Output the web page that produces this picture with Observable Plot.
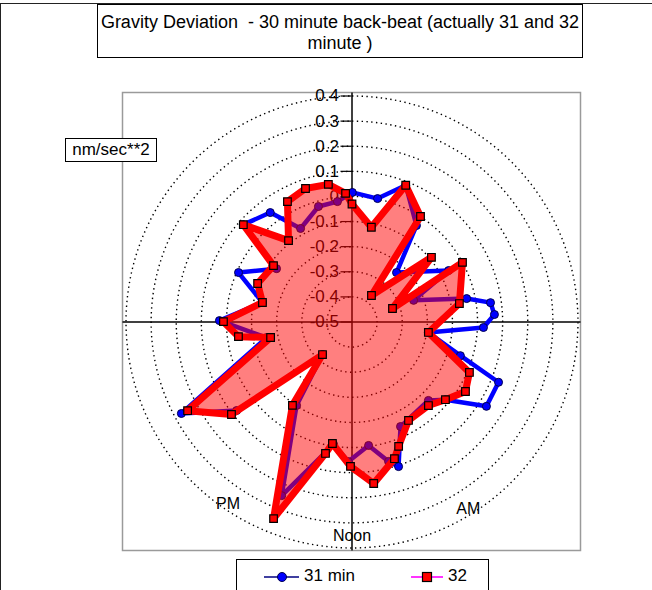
<!DOCTYPE html>
<html>
<head>
<meta charset="utf-8">
<script src="https://cdn.jsdelivr.net/npm/d3@7"></script>
<script src="https://cdn.jsdelivr.net/npm/@observablehq/plot@0.6"></script>
<style>
  html, body { margin: 0; padding: 0; background: #fff; }
  body { font-family: "Liberation Sans", Arial, sans-serif; }
  #wrap { position: relative; width: 652px; height: 590px; overflow: hidden; background: #fff; }
  #chart { position: absolute; left: 0; top: 0; }
  .frameTop { position: absolute; left: 0; top: 3px; width: 652px; height: 0; border-top: 1.5px solid #222; }
  .frameLeft { position: absolute; left: 0; top: 3px; width: 0; height: 600px; border-left: 1.5px solid #222; }
  #title { position: absolute; left: 97px; top: 4px; width: 484px; height: 52px; border: 1.5px solid #000; background: #fff;
           text-align: center; font-size: 18px; line-height: 21px; padding-top: 0; color: #000; white-space: pre; }
  #title div:first-child { margin-top: 7px; }
  #units { position: absolute; left: 65px; top: 138px; width: 90px; height: 22px; border: 1px solid #000; background: #fff;
           font-size: 17px; line-height: 22px; text-align: center; color: #000; }
  #legend { position: absolute; left: 236px; top: 559px; width: 251px; height: 40px; border: 1.5px solid #000; background: #fff; }
</style>
</head>
<body>
<div id="wrap">
  <div id="chart"></div>
  <div class="frameTop"></div>
  <div class="frameLeft"></div>
  <div id="title"><div>Gravity Deviation  - 30 minute back-beat (actually 31 and 32</div><div>minute )</div></div>
  <div id="units">nm/sec**2</div>
  <div id="legend"></div>
</div>
<script>
// ---------------- data ----------------
// Series "32": vertices in drawing order, position on the 24 h dial (hour) and value (nm/sec**2)
const hours32 = [0, 0.77, 1.43, 2.20, 2.42, 3.39, 4.77, 4.11, 5.35, 6.52, 7.55, 8.10, 8.65, 9.17, 10.01, 10.63, 10.85,
  11.49, 12.04, 12.61, 12.76, 13.45, 14.37, 14.81, 15.50, 16.11, 17.28, 17.51, 18.01, 18.82, 19.48, 20.38, 20.79,
  21.47, 22.12, 22.72, 23.35, 23.81];
const values32 = [-0.030, -0.115, 0.085, 0.001, -0.369, -0.092, -0.330, 0.000, -0.066, -0.193, 0.009, 0.030, -0.016,
  -0.049, -0.048, 0.029, 0.070, 0.149, 0.075, -0.010, 0.034, 0.343, -0.092, -0.325, 0.105, 0.244, -0.170, -0.044,
  0.012, -0.135, -0.094, -0.115, 0.081, -0.089, 0.044, 0.063, 0.056, 0.013];

// Series "31 min"
const hours31 = [0.01, 0.78, 1.43, 2.25, 2.80, 4.13, 4.71, 5.23, 5.47, 5.80, 6.16, 6.52, 7.15, 7.49, 8.14, 8.65, 9.05,
  10.34, 10.81, 11.02, 11.49, 12.10, 12.57, 13.47, 14.24, 14.81, 15.50, 16.12, 17.31, 18.04, 18.82, 19.57, 20.35,
  20.79, 21.55, 22.08, 22.92, 23.54];
const values31 = [0.016, 0.002, 0.085, -0.038, -0.235, -0.064, -0.240, -0.034, 0.057, 0.068, 0.024, -0.193, -0.048,
  0.131, 0.132, -0.016, -0.064, -0.041, 0.105, 0.074, -0.004, 0.056, -0.007, 0.246, -0.101, -0.325, 0.079, 0.271,
  -0.154, 0.028, -0.135, -0.007, -0.132, 0.081, 0.044, -0.075, -0.021, -0.017];

// Radial axis
const radialMin = -0.5;
const radialMax = 0.4;
const radialTicks = [-0.5, -0.4, -0.3, -0.2, -0.1, 0, 0.1, 0.2, 0.3, 0.4];
const radialTickLabels = ["-0.5", "-0.4", "-0.3", "-0.2", "-0.1", "0", "0.1", "0.2", "0.3", "0.4"];

// Category labels on the dial
const categoryNames = ["AM", "Noon", "PM"];
const categoryHours = [9.87, 12, 14.29];

// ---------------- layout ----------------
const W = 652, H = 590;
const CX = 351.5, CY = 321.5;   // dial centre in pixels
const PX = 251.1;               // pixels per 1.0 of value
const BOX = 229 / PX;           // half-size of plot area
const LABEL_R = 0.875;
const LABEL_DY = { AM: 0, Noon: -6, PM: 0 };
const TICK = 11 / PX;

function polar(hour, value) {
  const a = hour / 24 * 2 * Math.PI;
  const r = value - radialMin;
  return { x: r * Math.sin(a), y: r * Math.cos(a) };
}

const s32 = hours32.map((h, i) => ({ hour: h, value: values32[i], ...polar(h, values32[i]) }));
const s31 = hours31.map((h, i) => ({ hour: h, value: values31[i], ...polar(h, values31[i]) }));

const ringVals = radialTicks.filter(v => v > radialMin);
const rings = ringVals.flatMap(v => d3.range(0, 24.001, 0.05).map(h => ({ ring: v, ...polar(h, v) })));

const cats = categoryNames.map((n, i) => ({ name: n, ...polar(categoryHours[i], radialMin + LABEL_R) }));
const ticks = radialTicks.map((v, i) => ({ v, label: radialTickLabels[i], y: v - radialMin }));

const FONT = "'Liberation Sans', Arial, sans-serif";

const chart = Plot.plot({
  width: W,
  height: H,
  margin: 0,
  x: { domain: [-CX / PX, (W - CX) / PX], axis: null },
  y: { domain: [-(H - CY) / PX, CY / PX], axis: null },
  style: { background: "transparent", fontFamily: FONT, overflow: "visible" },
  marks: [
    // plot area
    Plot.rect([0], { x1: -BOX, x2: BOX, y1: -BOX, y2: BOX, fill: "white", stroke: "#9a9a9a", strokeWidth: 1.5 }),
    // axes through the centre
    Plot.ruleX([0], { y1: -BOX, y2: BOX, stroke: "#000", strokeWidth: 1.5 }),
    Plot.ruleY([0], { x1: -BOX, x2: BOX, stroke: "#000", strokeWidth: 1.5 }),
    // dotted rings
    Plot.line(rings, { x: "x", y: "y", z: "ring", stroke: "#000", strokeWidth: 1.4, strokeDasharray: "1.4,3.4", strokeLinecap: "butt" }),
    // radial ticks + labels
    Plot.ruleY(ticks, { y: "y", x1: -TICK, x2: 0, stroke: "#000", strokeWidth: 1.2 }),
    Plot.text(ticks, { x: 0, y: "y", text: "label", dx: -13, textAnchor: "end", fontSize: 17, fill: "#000" }),
    // category labels
    ...cats.map(c => Plot.text([c], { x: "x", y: "y", text: "name", dy: LABEL_DY[c.name], fontSize: 16, fill: "#000" })),
    // series 31 min
    Plot.line(s31, { x: "x", y: "y", curve: "linear-closed", stroke: "#0000ff", strokeWidth: 4.5, strokeLinejoin: "round" }),
    Plot.dot(s31, { x: "x", y: "y", r: 4, fill: "#0000ff", stroke: "#000050", strokeWidth: 1 }),
    // series 32: filled area + outline + markers
    Plot.line(s32, { x: "x", y: "y", curve: "linear-closed", fill: "#ff0000", fillOpacity: 0.5, stroke: "none" }),
    Plot.line(s32, { x: "x", y: "y", curve: "linear-closed", stroke: "#ff0000", strokeWidth: 7, strokeLinejoin: "round" }),
    Plot.dot(s32, { x: "x", y: "y", symbol: "square", r: 4.3, fill: "#ff0000", stroke: "#000", strokeWidth: 1.2 })
  ]
});
document.getElementById("chart").appendChild(chart);

// legend
const lg = document.getElementById("legend");
lg.innerHTML = `
<svg width="251" height="40" style="display:block;font-family:${FONT}">
  <line x1="27" y1="17" x2="62" y2="17" stroke="#000080" stroke-width="1.6"/>
  <circle cx="45" cy="17" r="4.5" fill="#0000ff" stroke="#000050" stroke-width="1"/>
  <text x="67" y="17" dominant-baseline="middle" font-size="17" fill="#000">31 min</text>
  <line x1="174" y1="17" x2="206" y2="17" stroke="#ff00ff" stroke-width="1.6"/>
  <rect x="185.5" y="12.5" width="9" height="9" fill="#ff0000" stroke="#000" stroke-width="1.2"/>
  <text x="211" y="17" dominant-baseline="middle" font-size="17" fill="#000">32</text>
</svg>`;
</script>
</body>
</html>
